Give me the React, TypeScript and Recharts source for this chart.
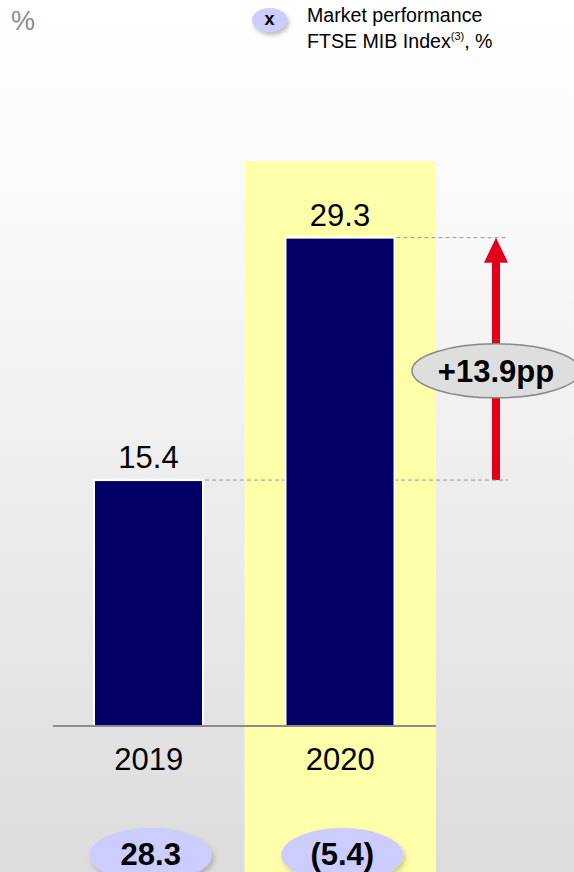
import React from 'react';
import { BarChart, Bar, XAxis, YAxis, LabelList, ReferenceArea } from 'recharts';

// FTSE MIB share (%), by year
const years = ['2019', '2020'];
const shareValues = [15.4, 29.3];
// market performance FTSE MIB Index, % (shown in the bubbles under the axis)
const marketPerf = ['28.3', '(5.4)'];
const changeLabel = '+13.9pp';
const highlightYear = '2020';

const NAVY = '#000066';
const BUBBLE = '#ccccff';
const RED = '#e0001b';
const FONT = '"Liberation Sans", Arial, sans-serif';

const data = years.map((y, i) => ({ year: y, value: shareValues[i], market: marketPerf[i] }));

const YearTick = (props: any) => {
  const { x, y, payload, index } = props;
  return (
    <g>
      <text x={x} y={y + 36} textAnchor="middle" fontSize={31} fill="#000" fontFamily={FONT}>
        {payload.value}
      </text>
      <ellipse cx={x + 2} cy={y + 121} rx={61} ry={27} fill={BUBBLE} filter="url(#softShadow)" />
      <text x={x + 2} y={y + 131} textAnchor="middle" fontSize={31} fontWeight="bold" fill="#000" fontFamily={FONT}>
        {data[index]?.market}
      </text>
    </g>
  );
};

// bar with a dashed guide running out to the right
const BarWithGuide = (props: any) => {
  const { x, y, width, height } = props;
  return (
    <g>
      <rect x={x} y={y} width={width} height={height} fill={NAVY} stroke="#fff" strokeWidth={2} />
      <line x1={x + width + 2} y1={y} x2={508} y2={y} stroke="#999" strokeWidth={1} strokeDasharray="4 3" />
    </g>
  );
};

const HighlightBand = (props: any) => {
  const { x, width } = props;
  return (
    <g>
      <defs>
        <filter id="softShadow" x="-30%" y="-30%" width="160%" height="160%">
          <feDropShadow dx="2" dy="3" stdDeviation="2.5" floodColor="#000" floodOpacity="0.22" />
        </filter>
      </defs>
      <rect x={x} y={161} width={width} height={872 - 161} fill="#ffffaa" />
    </g>
  );
};

const ChangeArrow = (props: any) => {
  const { y, height } = props;
  const ax = 496;
  const top = y;
  const bottom = y + height;
  const mid = (top + bottom) / 2 + 12;
  return (
    <g>
      <rect x={ax - 4} y={top + 24} width={8} height={bottom - top - 24} fill={RED} />
      <polygon points={`${ax},${top} ${ax - 12},${top + 25} ${ax + 12},${top + 25}`} fill={RED} />
      <ellipse cx={ax} cy={mid} rx={84} ry={27} fill="#dedede" stroke="#888" strokeWidth={1.5} />
      <text x={ax} y={mid + 11} textAnchor="middle" fontSize={31} fontWeight="bold" fill="#000" fontFamily={FONT}>
        {changeLabel}
      </text>
    </g>
  );
};

export default function App() {
  return (
    <div
      style={{
        position: 'absolute',
        left: 0,
        top: 0,
        width: 574,
        height: 872,
        overflow: 'hidden',
        background: 'linear-gradient(to bottom, #ffffff 0%, #f7f7f7 30%, #dcdcdc 100%)',
        fontFamily: FONT,
      }}
    >
      <div style={{ position: 'absolute', left: 11, top: 6, fontSize: 27, color: '#8c8c8c' }}>%</div>
      <div
        style={{
          position: 'absolute',
          left: 252,
          top: 8,
          width: 35,
          height: 24,
          borderRadius: '50%',
          background: BUBBLE,
          boxShadow: '2px 3px 4px rgba(0,0,0,0.25)',
          textAlign: 'center',
          fontWeight: 'bold',
          fontSize: 18,
          lineHeight: '22px',
        }}
      >
        x
      </div>
      <div style={{ position: 'absolute', left: 307, top: 5, fontSize: 19.6, lineHeight: '21px', color: '#000' }}>
        Market performance
        <br />
        FTSE MIB Index<sup style={{ fontSize: 11 }}>(3)</sup>, %
      </div>
      <div style={{ position: 'absolute', left: 0, top: 0 }}>
        <BarChart width={574} height={872} data={data} margin={{ top: 51, right: 138, bottom: 0, left: 53 }}>
          <ReferenceArea x1={highlightYear} x2={highlightYear} ifOverflow="visible" shape={HighlightBand} />
          <XAxis
            dataKey="year"
            height={146}
            interval={0}
            tickLine={false}
            axisLine={{ stroke: '#8c8c8c', strokeWidth: 2 }}
            tick={<YearTick />}
          />
          <YAxis hide domain={[1.3, 40]} />
          <Bar dataKey="value" barSize={109} isAnimationActive={false} shape={BarWithGuide}>
            <LabelList dataKey="value" position="top" offset={12} fontSize={31} fill="#000" fontFamily={FONT} />
          </Bar>
          <ReferenceArea
            y1={shareValues[0]}
            y2={shareValues[1]}
            ifOverflow="visible"
            shape={ChangeArrow}
          />
        </BarChart>
      </div>
    </div>
  );
}
